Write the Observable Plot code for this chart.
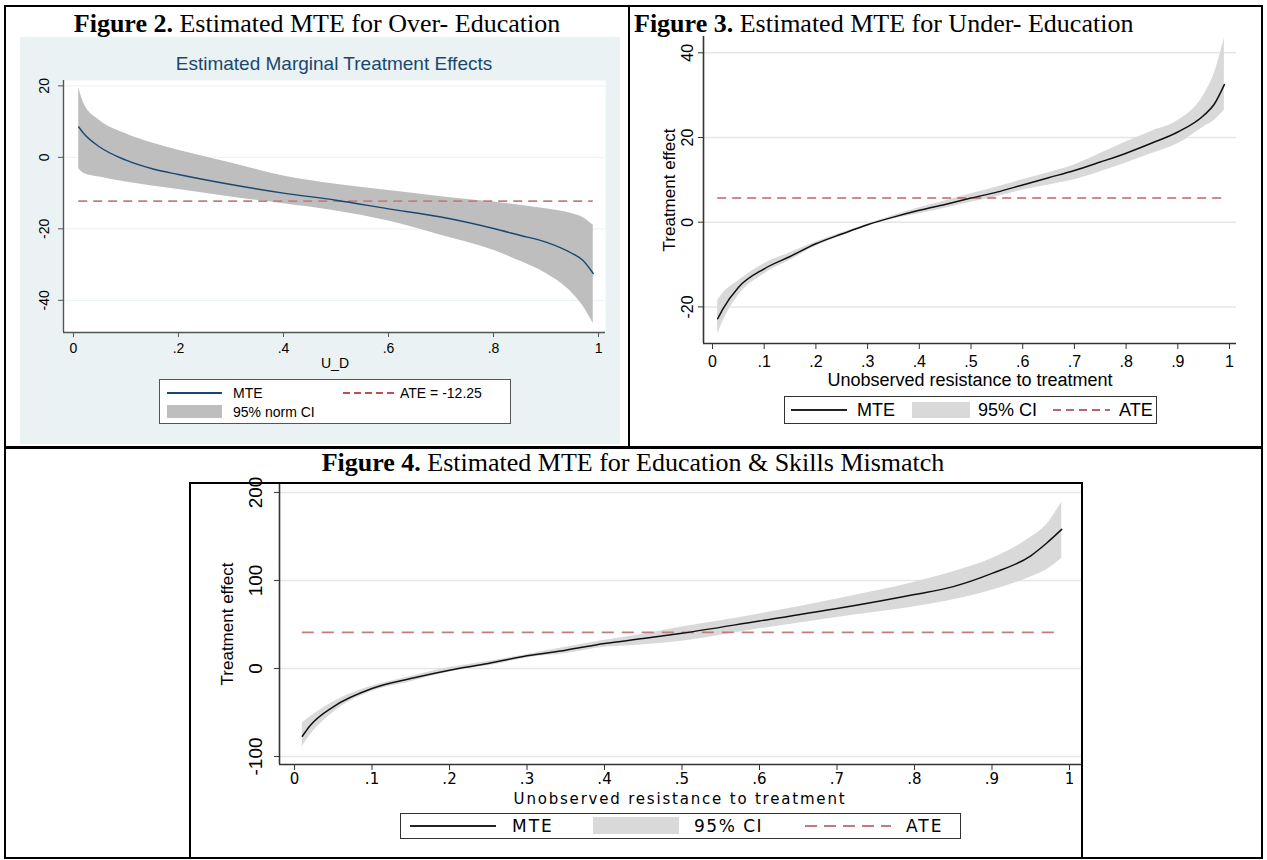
<!DOCTYPE html>
<html><head><meta charset="utf-8">
<script src="https://cdn.jsdelivr.net/npm/d3@7"></script>
<script src="https://cdn.jsdelivr.net/npm/@observablehq/plot@0.6"></script>
<style>
body{margin:0;background:#fff;}
#page{position:relative;width:1267px;height:860px;overflow:hidden;background:#fff;}
.abs{position:absolute;}
svg{overflow:visible;}
</style></head>
<body><div id="page"></div>
<script>
// ---------- DATA ----------
// Figure 2: Over-education
const u2   = [0.01,0.02,0.05,0.1,0.15,0.2,0.3,0.4,0.5,0.6,0.7,0.8,0.85,0.9,0.95,0.97,0.99];
const mte2 = [8.5,6.6,2.9,-0.8,-3.2,-4.8,-7.6,-10,-12,-14.4,-16.7,-19.9,-21.8,-23.7,-26.9,-28.8,-32.5];
const lo2  = [-3.2,-4.5,-5.5,-6.9,-8,-9,-11.1,-13,-15,-17.8,-21.8,-26,-29,-32.5,-38,-41.5,-46.5];
const hi2  = [19.5,15,10.3,6.6,4,2,-1.6,-5.2,-7.5,-9.3,-11,-12.5,-13.4,-14.4,-15.8,-16.8,-19];
const ate2 = -12.25;
const yTicks2 = [20,0,-20,-40];
const xTicks2 = [0,0.2,0.4,0.6,0.8,1];

// Figure 3: Under-education
const u3   = [0.01,0.02,0.05,0.1,0.15,0.2,0.25,0.3,0.35,0.4,0.45,0.5,0.55,0.6,0.65,0.7,0.75,0.8,0.85,0.9,0.95,0.97,0.99];
const mte3 = [-22.8,-20.5,-15.4,-11,-8.1,-5.1,-2.8,-0.6,1.2,2.8,4.2,5.7,7.1,8.8,10.5,12.2,14.2,16.3,18.7,21.3,25.2,27.8,32.5];
const lo3  = [-26.4,-23.5,-17.3,-12.2,-9,-5.7,-3.2,-0.8,0.8,2.0,3.3,4.7,6.0,7.6,8.8,10,11.9,14,16.2,18.5,22.5,24,26.5];
const hi3  = [-18.5,-16.8,-13.8,-9.8,-7.2,-4.7,-2.5,-0.4,1.6,3.4,5.0,6.7,8.3,10,11.7,13.5,16.2,19,21.5,24,30,35,43.5];
const ate3 = 5.7;
const yTicks3 = [40,20,0,-20];
const xTicks3 = [0,0.1,0.2,0.3,0.4,0.5,0.6,0.7,0.8,0.9,1];

// Figure 4: Education & skills mismatch
const u4   = [0.01,0.02,0.05,0.1,0.15,0.2,0.25,0.3,0.35,0.4,0.45,0.5,0.6,0.7,0.8,0.85,0.9,0.95,0.97,0.99];
const mte4 = [-77,-65,-43.5,-22.7,-11.4,-1.9,5.7,14.4,20.8,28.4,34,40,54,68,84,93,108,128,142,158];
const lo4  = [-89,-76,-50,-26,-15,-4,3,12,17,24,27,31,45,58,70,78,89,104,112,125];
const hi4  = [-62,-55,-38,-20,-9,1,8,16,24,32,39,47,62,79,98,110,125,149,163,189];
const ate4 = 41;
const yTicks4 = [200,100,0,-100];
const xTicks4 = [0,0.1,0.2,0.3,0.4,0.5,0.6,0.7,0.8,0.9,1];

// ---------- helpers ----------
const page = document.getElementById("page");
function box(x,y,w,h,style){
  const d=document.createElement("div"); d.className="abs";
  Object.assign(d.style,{left:x+"px",top:y+"px",width:w+"px",height:h+"px",boxSizing:"border-box"},style||{});
  page.appendChild(d); return d;
}
function dash(x,y,w,color,on,off,th){
  return box(x,y-th/2,w,th,{background:`repeating-linear-gradient(to right, ${color} 0 ${on}px, transparent ${on}px ${on+off}px)`});
}
function text(html,x,y,o){
  o=o||{};
  const d=document.createElement("div"); d.className="abs"; d.innerHTML=html;
  Object.assign(d.style,{left:x+"px",top:y+"px",fontFamily:o.font||"'Liberation Sans',Arial,sans-serif",
    fontSize:(o.size||14)+"px",color:o.color||"#000",whiteSpace:"nowrap",lineHeight:"1",
    letterSpacing:(o.spacing||0)+"px"});
  const tx=o.anchor==="start"?"0":o.anchor==="end"?"-100%":"-50%";
  d.style.transform=`translate(${tx},-50%)`+(o.rotate?` rotate(${o.rotate}deg)`:"");
  page.appendChild(d); return d;
}
function place(svg,x,y){ const w=document.createElement("div"); w.className="abs"; w.style.left=x+"px"; w.style.top=y+"px"; w.appendChild(svg); page.appendChild(w); }
const fmtU = d => d===0?"0":d===1?"1":String(+d.toFixed(2)).replace(/^0\./,".");
const fmtY = d => String(d);
const rows = (u,m,l,h)=>u.map((v,i)=>({u:v,mte:m[i],lo:l[i],hi:h[i]}));

const SERIF="'Liberation Serif','Times New Roman',serif";
const SANS="'Liberation Sans',Arial,sans-serif";
const NARROW="'Liberation Sans Narrow','Arial Narrow','Liberation Sans',sans-serif";
const WIDE="'DejaVu Sans','Liberation Sans',sans-serif";

// ---------- table borders ----------
box(4,5,1259,2,{background:"#000"});
box(4,857,1259,2,{background:"#000"});
box(4,5,2,854,{background:"#000"});
box(1261,5,2,854,{background:"#000"});
box(628,5,2,443,{background:"#000"});
box(4,446,1259,3,{background:"#000"});

// captions
text("<b>Figure 2.</b> Estimated MTE for Over- Education",317,24,{font:SERIF,size:26});
text("<b>Figure 3.</b> Estimated MTE for Under- Education",634,24,{font:SERIF,size:26,anchor:"start"});
text("<b>Figure 4.</b> Estimated MTE for Education &amp; Skills Mismatch",633,463,{font:SERIF,size:26});

// ---------- Figure 2 ----------
box(20,37,600,407,{background:"#eaf2f3"});
text("Estimated Marginal Treatment Effects",334,63,{size:19,color:"#1a476f"});
{
  const d=rows(u2,mte2,lo2,hi2);
  const xd=[-0.019,1.0133], yd=[-49,21.5];
  const p=Plot.plot({
    width:600,height:340,marginLeft:43,marginRight:15,marginTop:43,marginBottom:45,
    x:{domain:xd},y:{domain:yd},
    style:{background:"transparent",fontFamily:SANS,fontSize:"14px",color:"#000",overflow:"visible"},
    marks:[
      Plot.frame({fill:"#fff",stroke:null}),
      Plot.gridY(yTicks2,{stroke:"#eaf2f3",strokeOpacity:1}),
      Plot.areaY(d,{x:"u",y1:"lo",y2:"hi",fill:"#bebebe",curve:"monotone-x"}),
      Plot.ruleY([ate2],{x1:u2[0],x2:u2[u2.length-1],stroke:"#c27e80",strokeWidth:1.6,strokeDasharray:"9,6"}),
      Plot.lineY(d,{x:"u",y:"mte",stroke:"#1a476f",strokeWidth:1.4,curve:"monotone-x"}),
      Plot.ruleX([xd[0]],{stroke:"#555",strokeWidth:1.4}),
      Plot.ruleY([yd[0]],{stroke:"#555",strokeWidth:1.4}),
      Plot.axisY(yTicks2,{tickRotate:-90,tickSize:5,tickPadding:10,tickFormat:fmtY,stroke:"#555",label:null}),
      Plot.axisX(xTicks2,{tickSize:5,tickPadding:6,tickFormat:fmtU,stroke:"#555",label:null})
    ]
  });
  place(p,20,37);
}
text("U_D",335,363,{size:14});
box(159,379,352,45,{background:"#fff",border:"1px solid #555"});
box(167,392,55,1.5,{background:"#1a476f"});
text("MTE",233,393,{size:14,anchor:"start"});
dash(343,393,52,"#c0504d",7,4,1.5);
text("ATE = -12.25",400,393,{size:14,anchor:"start"});
box(167,405,55,13,{background:"#bebebe"});
text("95% norm CI",233,412,{size:14,anchor:"start"});

// ---------- Figure 3 ----------
{
  const d=rows(u3,mte3,lo3,hi3);
  const xd=[-0.0174,1.0135], yd=[-28.64,43.85];
  const p=Plot.plot({
    width:610,height:360,marginLeft:63,marginRight:14,marginTop:6,marginBottom:47,
    x:{domain:xd},y:{domain:yd},
    style:{background:"transparent",fontFamily:NARROW,fontSize:"16px",color:"#000",overflow:"visible"},
    marks:[
      Plot.gridY(yTicks3,{stroke:"#e6e6e6",strokeOpacity:1,strokeWidth:1.5}),
      Plot.areaY(d,{x:"u",y1:"lo",y2:"hi",fill:"#d9d9d9",curve:"monotone-x"}),
      Plot.ruleY([ate3],{x1:u3[0],x2:u3[u3.length-1],stroke:"#b9676a",strokeWidth:1.6,strokeDasharray:"9,6"}),
      Plot.lineY(d,{x:"u",y:"mte",stroke:"#111",strokeWidth:1.5,curve:"monotone-x"}),
      Plot.ruleX([xd[0]],{stroke:"#333",strokeWidth:1.6}),
      Plot.ruleY([yd[0]],{stroke:"#333",strokeWidth:1.6}),
      Plot.axisY(yTicks3,{tickRotate:-90,tickSize:5,tickPadding:6,tickFormat:fmtY,stroke:"#333",label:null}),
      Plot.axisX(xTicks3,{tickSize:6,tickPadding:6,tickFormat:fmtU,stroke:"#333",label:null})
    ]
  });
  place(p,640,30);
}
text("Treatment effect",669,190,{font:NARROW,size:17,rotate:-90});
text("Unobserved resistance to treatment",970,380,{font:NARROW,size:18});
box(784,396,373,28,{background:"#fff",border:"1.5px solid #333"});
box(791,409,56,1.6,{background:"#222"});
text("MTE",857,410,{font:NARROW,size:18,anchor:"start"});
box(912,402,58,16,{background:"#d9d9d9"});
text("95% CI",978,410,{font:NARROW,size:18,anchor:"start"});
dash(1053,410,57,"#b9676a",8,5,2);
text("ATE",1119,410,{font:NARROW,size:18,anchor:"start"});

// ---------- Figure 4 ----------
box(189,482,894,377,{border:"2.5px solid #000",background:"#fff"});
{
  const d=rows(u4,mte4,lo4,hi4);
  const xd=[-0.0194,1.0155], yd=[-109.1,209];
  const p=Plot.plot({
    width:892,height:320,marginLeft:84,marginRight:6,marginTop:1,marginBottom:39,
    x:{domain:xd},y:{domain:yd},
    style:{background:"transparent",fontFamily:WIDE,fontSize:"15px",color:"#000",overflow:"visible"},
    marks:[
      Plot.gridY(yTicks4,{stroke:"#e6e6e6",strokeOpacity:1,strokeWidth:1.5}),
      Plot.areaY(d,{x:"u",y1:"lo",y2:"hi",fill:"#d9d9d9",curve:"monotone-x"}),
      Plot.ruleY([ate4],{x1:u4[0],x2:u4[u4.length-1],stroke:"#c07b7e",strokeWidth:1.6,strokeDasharray:"12,8"}),
      Plot.lineY(d,{x:"u",y:"mte",stroke:"#111",strokeWidth:1.5,curve:"monotone-x"}),
      Plot.ruleX([xd[0]],{stroke:"#333",strokeWidth:1.6}),
      Plot.ruleY([yd[0]],{stroke:"#333",strokeWidth:1.6}),
      Plot.axisY(yTicks4,{tickRotate:-90,tickSize:5,tickPadding:13,tickFormat:fmtY,stroke:"#333",fontFamily:NARROW,fontSize:19,label:null}),
      Plot.axisX(xTicks4,{tickSize:6,tickPadding:3,tickFormat:fmtU,stroke:"#333",label:null})
    ]
  });
  place(p,195,483);
}
text("Treatment effect",227,624,{font:NARROW,size:17,rotate:-90});
text("Unobserved resistance to treatment",680,799,{font:WIDE,size:15,spacing:1.8});
box(400,813,561,26,{background:"#fff",border:"1.5px solid #333"});
box(410,825,86,1.6,{background:"#222"});
text("MTE",512,826,{font:WIDE,size:17,spacing:2,anchor:"start"});
box(593,817,86,17,{background:"#d9d9d9"});
text("95% CI",694,826,{font:WIDE,size:17,spacing:1.5,anchor:"start"});
dash(805,826,86,"#c07b7e",12,7,2);
text("ATE",906,826,{font:WIDE,size:17,spacing:2,anchor:"start"});
</script>
</body></html>
